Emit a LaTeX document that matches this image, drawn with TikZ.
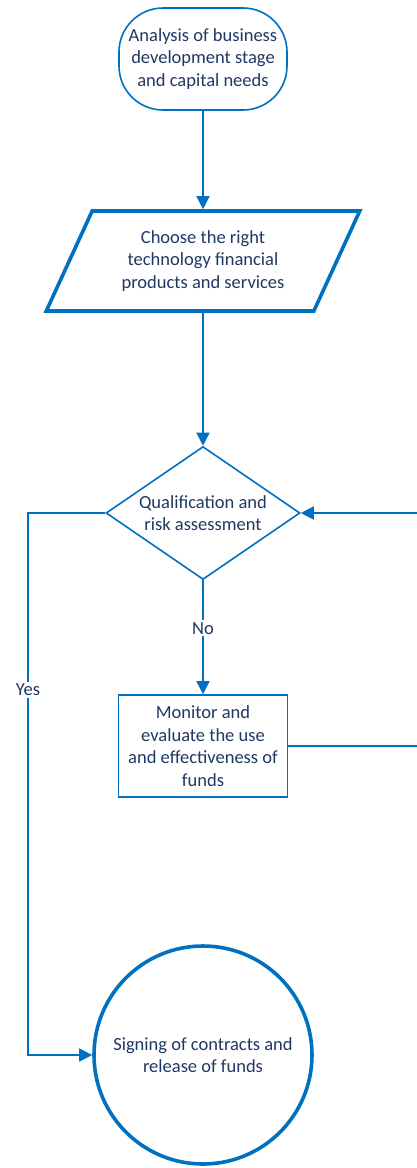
\documentclass[tikz,border=0pt]{standalone}
\usepackage{fontspec}
\setmainfont{Carlito}
\usepackage{tikz}
\usetikzlibrary{shapes.geometric,arrows.meta}
\definecolor{flowblue}{HTML}{0070C0}
\definecolor{flowtext}{HTML}{1F3864}
\tikzstyle{base}=[draw=flowblue, fill=white, text=flowtext, align=center, font=\fontsize{18.5}{22.5}\selectfont]
\tikzstyle{terminal}=[base, line width=1.6pt, rectangle, rounded corners=44pt, minimum width=168pt, minimum height=102pt, inner sep=0pt]
\tikzstyle{iobox}=[base, line width=3.6pt, trapezium, trapezium left angle=61, trapezium right angle=119, trapezium stretches=true, minimum width=314pt, minimum height=100pt, inner sep=0pt]
\tikzstyle{decision}=[base, line width=1.6pt, diamond, aspect=1.46, minimum width=194pt, minimum height=133pt, inner sep=0pt]
\tikzstyle{process}=[base, line width=1.6pt, rectangle, minimum width=169pt, minimum height=102pt, inner sep=0pt]
\tikzstyle{ending}=[base, line width=3.6pt, circle, minimum size=218pt, inner sep=0pt]
\tikzstyle{conn}=[draw=flowblue, line width=1.6pt, -{Triangle[length=13pt,width=13pt]}]
\tikzstyle{lbl}=[fill=white, text=flowtext, font=\fontsize{18.5}{22.5}\selectfont, inner sep=2pt]

\begin{document}
\begin{tikzpicture}[x=1pt,y=-1pt]
	\useasboundingbox (0,0) rectangle (416,1168);
	\node[terminal] (start) at (203,59) {Analysis of business\\development stage\\and capital needs};
	\node[iobox] (choose) at (203,261) {Choose the right\\technology financial\\products and services};
	\node[decision] (qual) at (203,513) {Qualification and\\risk assessment};
	\node[process] (monitor) at (203,746) {Monitor and\\evaluate the use\\and effectiveness of\\funds};
	\node[ending] (sign) at (203,1055) {Signing of contracts and\\release of funds};
	\coordinate (back) at (430,746);
	\coordinate (yesbend) at (28,513);
	\draw[conn] (start) -- (choose);
	\draw[conn] (choose) -- (qual);
	\draw[conn] (qual) -- node[lbl, pos=0.42] {No} (monitor);
	\draw[conn] (monitor.east) -- (back) |- (qual.east);
	\draw[conn] (qual.west) -- (yesbend) |- node[lbl, pos=0.163] {Yes} (sign.west);
\end{tikzpicture}
\end{document}
